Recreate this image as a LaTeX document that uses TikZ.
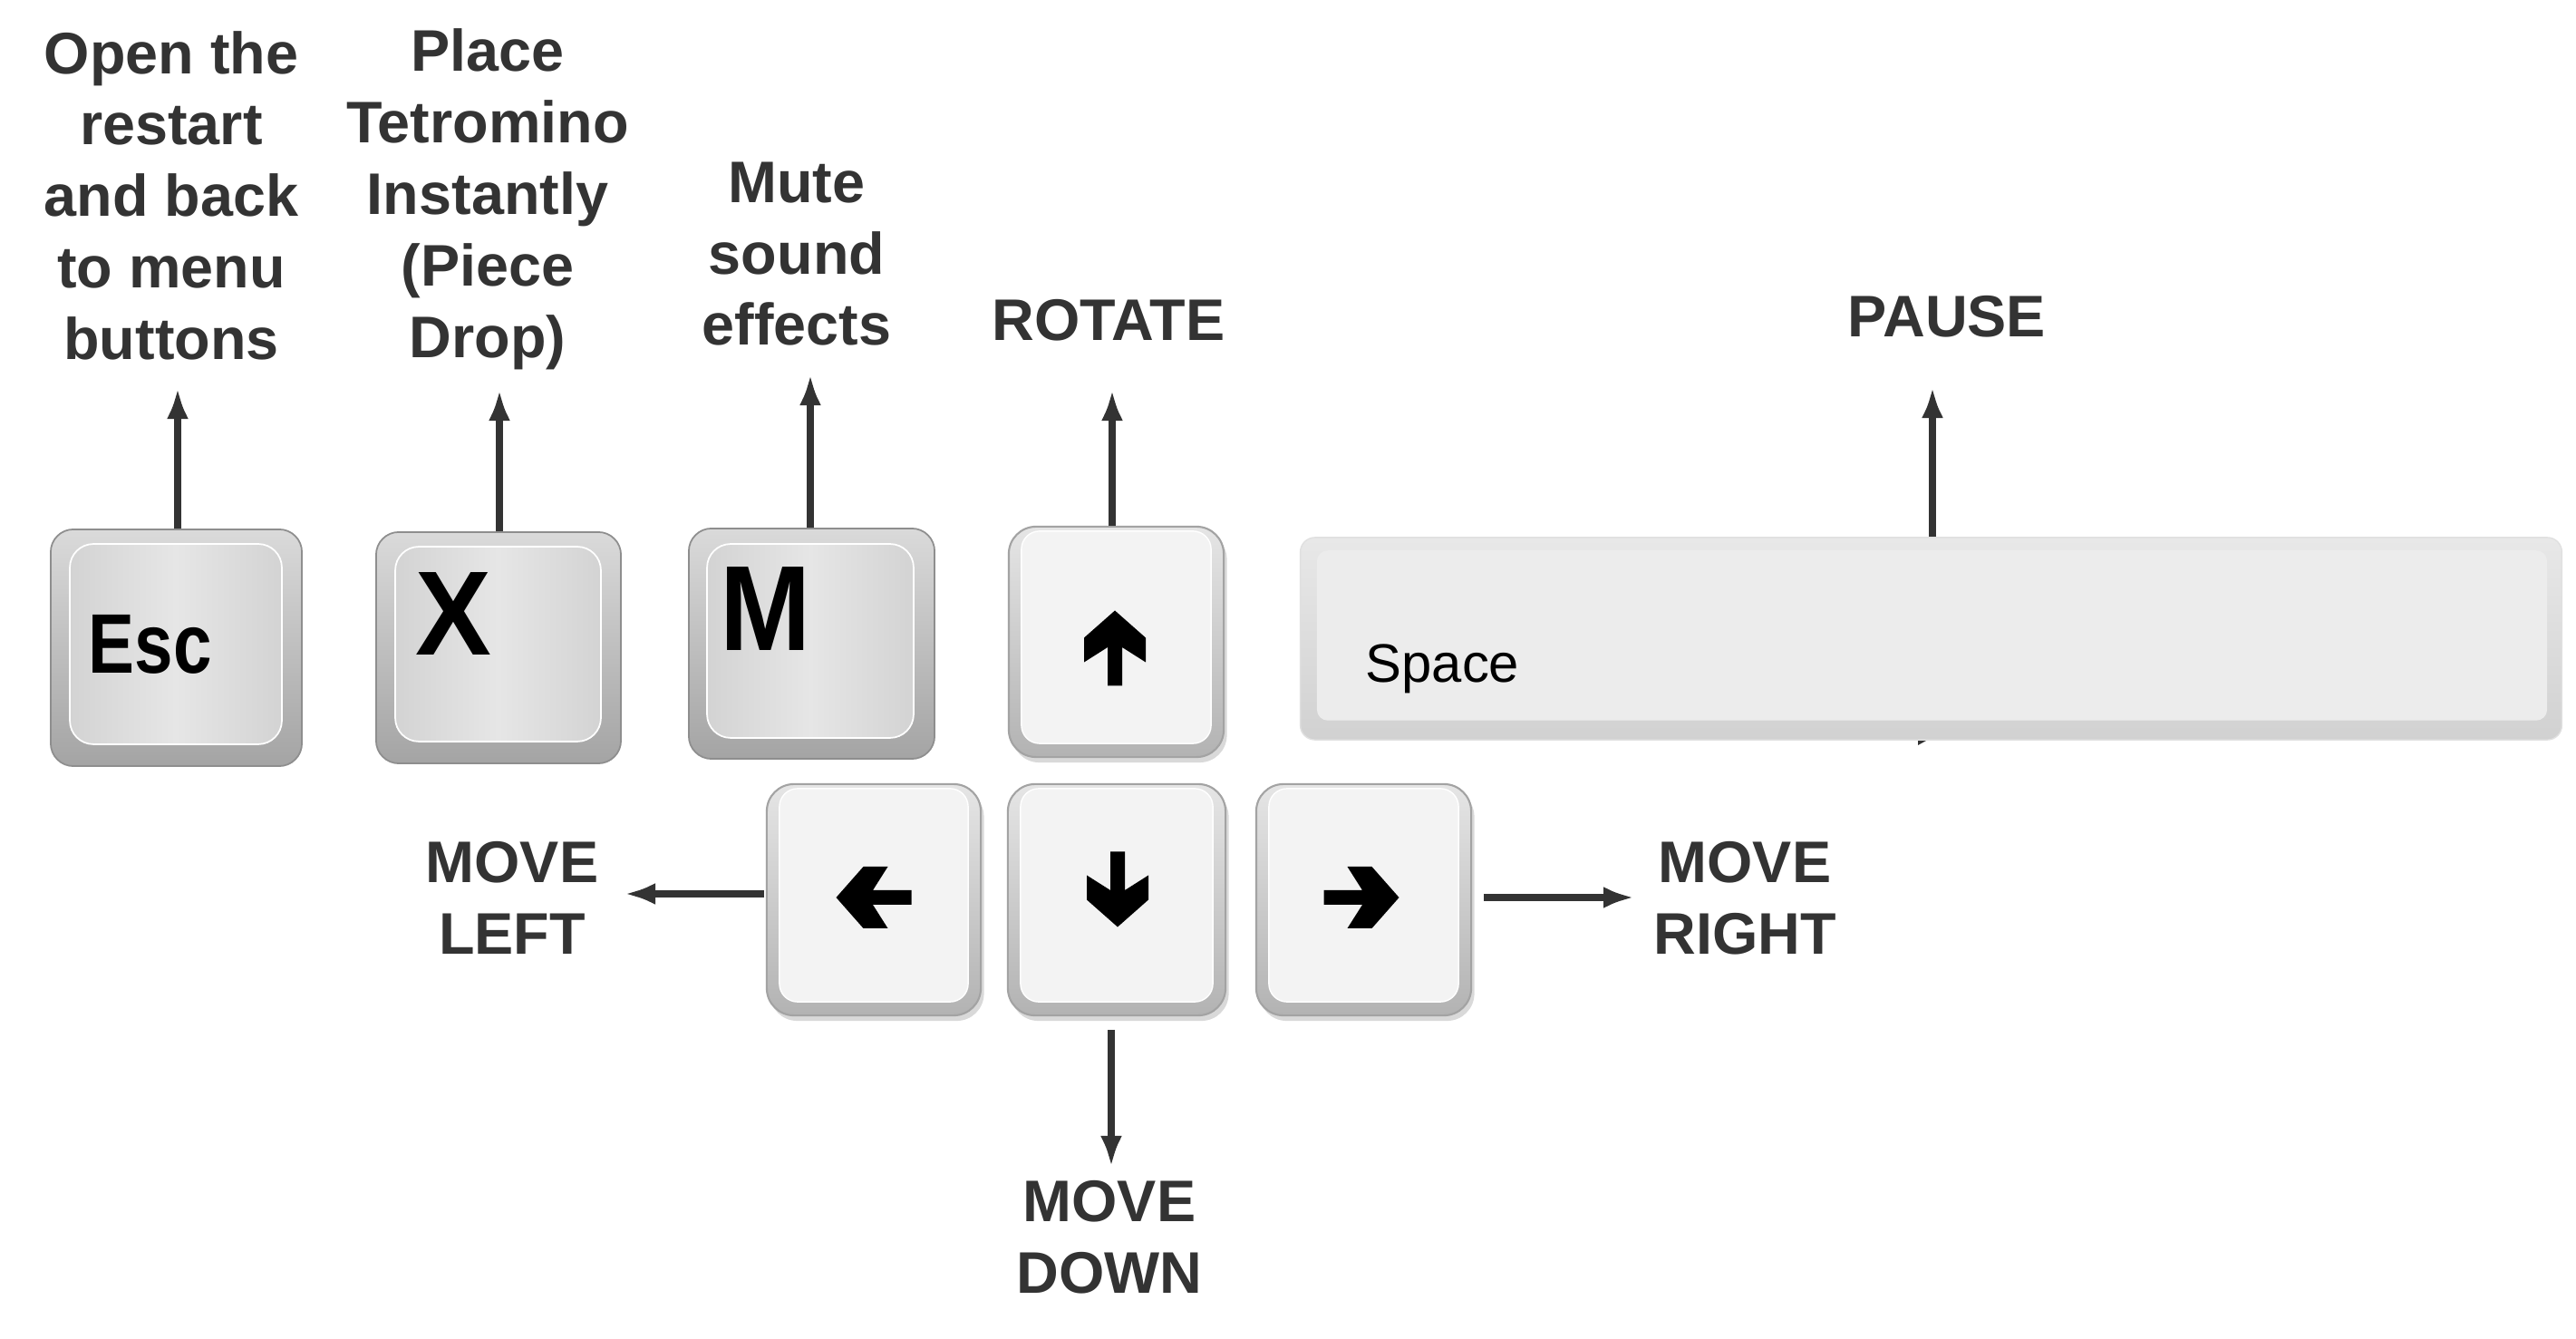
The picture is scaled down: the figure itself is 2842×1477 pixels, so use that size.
\documentclass[tikz,border=0pt]{standalone}
\usepackage{fontspec}
\setmainfont{Liberation Sans}
\usetikzlibrary{arrows.meta,shadows}
\definecolor{txt}{HTML}{333333}
\definecolor{gtop}{HTML}{DADADA}
\definecolor{gbot}{HTML}{A4A4A4}
\definecolor{gline}{HTML}{8E8E8E}
\definecolor{fedge}{HTML}{D3D3D3}
\definecolor{fmid}{HTML}{E6E6E6}
\definecolor{wface}{HTML}{F3F3F3}
\newcommand\lst{\rule[-0.142em]{0pt}{1em}}
\tikzset{
  graykey/.style={rectangle, rounded corners=0.25cm, draw=gline, line width=0.5pt,
    top color=gtop, bottom color=gbot, inner sep=0pt},
  grayface/.style={rounded corners=0.26cm, draw=white, line width=0.5pt,
    left color=fedge, right color=fedge, middle color=fmid},
  whitekey/.style={rectangle, rounded corners=0.3cm, draw=black!36, line width=0.6pt,
    top color=black!10, bottom color=black!30, inner sep=0pt,
    drop shadow={shadow xshift=0.035cm, shadow yshift=-0.06cm, opacity=0.3}},
  whiteface/.style={rounded corners=0.2cm, fill=wface, draw=white, line width=0.4pt},
  spacekey/.style={rectangle, rounded corners=0.16cm, draw=black!12, line width=0.4pt,
    top color=black!9, bottom color=black!18, inner sep=0pt},
  spaceface/.style={rounded corners=0.12cm, fill=black!7.5},
  lbl/.style={font=\fontsize{18.4}{22.4}\selectfont\bfseries, text=txt, align=center, inner sep=0pt},
  conn/.style={draw=txt, line width=2.5pt, -{Latex[length=0.34cm,width=0.24cm]}},
  kglyph/.pic={\fill[black] (41.5,0) -- (11.5,34) -- (-15.5,34) -- (1,8) -- (-41.5,8)
     -- (-41.5,-8) -- (1,-8) -- (-15.5,-34) -- (11.5,-34) -- cycle;}
}
\begin{document}
\begin{tikzpicture}[x=0.01cm,y=-0.01cm]
\useasboundingbox (0,0) rectangle (2842,1477);

% ---------- gray keys ----------
\node[graykey, minimum width=2.77cm, minimum height=2.61cm] (esc) at (194.5,714.5) {};
\path[grayface] ([xshift=0.22cm,yshift=-0.17cm]esc.north west) rectangle ([xshift=-0.23cm,yshift=0.25cm]esc.south east);
\node[anchor=base west, inner sep=0pt, font=\fontsize{26.5}{30}\selectfont\bfseries] (esct) at (97,743) {\scalebox{0.82}[1]{Esc}};

\node[graykey, minimum width=2.70cm, minimum height=2.55cm] (xk) at (550,714.5) {};
\path[grayface] ([xshift=0.22cm,yshift=-0.17cm]xk.north west) rectangle ([xshift=-0.23cm,yshift=0.25cm]xk.south east);
\node[anchor=base west, inner sep=0pt, font=\fontsize{37.6}{40}\selectfont\bfseries] (xt) at (458,723) {\scalebox{0.95}[1]{X}};

\node[graykey, minimum width=2.71cm, minimum height=2.54cm] (mk) at (895.5,710) {};
\path[grayface] ([xshift=0.21cm,yshift=-0.18cm]mk.north west) rectangle ([xshift=-0.24cm,yshift=0.24cm]mk.south east);
\node[anchor=base west, inner sep=0pt, font=\fontsize{38}{40}\selectfont\bfseries] (mt) at (794,718) {\scalebox{0.9}[1]{M}};

% ---------- arrow keys ----------
\node[whitekey, minimum width=2.37cm, minimum height=2.54cm] (up) at (1231.5,708) {};
\path[whiteface] ([xshift=0.15cm,yshift=-0.06cm]up.north west) rectangle ([xshift=-0.15cm,yshift=0.16cm]up.south east);
\pic[rotate=90] (gup) at (1230,715) {kglyph};

\node[whitekey, minimum width=2.36cm, minimum height=2.55cm] (left) at (964,992.5) {};
\path[whiteface] ([xshift=0.15cm,yshift=-0.06cm]left.north west) rectangle ([xshift=-0.15cm,yshift=0.16cm]left.south east);
\pic[rotate=180] (gleft) at (964,990) {kglyph};

\node[whitekey, minimum width=2.40cm, minimum height=2.55cm] (down) at (1232,992.5) {};
\path[whiteface] ([xshift=0.15cm,yshift=-0.06cm]down.north west) rectangle ([xshift=-0.15cm,yshift=0.16cm]down.south east);
\pic[rotate=-90] (gdown) at (1233,981) {kglyph};

\node[whitekey, minimum width=2.37cm, minimum height=2.55cm] (right) at (1504.5,992.5) {};
\path[whiteface] ([xshift=0.15cm,yshift=-0.06cm]right.north west) rectangle ([xshift=-0.15cm,yshift=0.16cm]right.south east);
\pic (gright) at (1502,990) {kglyph};

% ---------- space bar ----------
\fill[txt] (2116,812) -- (2134,812) -- (2116,822) -- cycle;
\node[spacekey, minimum width=13.91cm, minimum height=2.23cm] (space) at (2130.5,704.5) {};
\path[spaceface] ([xshift=0.19cm,yshift=-0.15cm]space.north west) rectangle ([xshift=-0.17cm,yshift=0.22cm]space.south east);
\node[anchor=base west, inner sep=0pt, font=\fontsize{17}{20}\selectfont] (spt) at (1506,753) {Space};

% ---------- labels ----------
\node[lbl] (lesc) at (189,215.5) {Open the\lst\\restart\lst\\and back\lst\\to menu\lst\\buttons\lst};
\node[lbl] (lx) at (538,215.5) {Place\lst\\Tetromino\lst\\Instantly\lst\\(Piece\lst\\Drop)\lst};
\node[lbl] (lm) at (879,279) {Mute\lst\\sound\lst\\effects\lst};
\node[lbl] (lrot) at (1223,352) {ROTATE\lst};
\node[lbl] (lpause) at (2148,348) {PAUSE\lst};
\node[lbl] (lleft) at (565,990) {MOVE\lst\\LEFT\lst};
\node[lbl] (lright) at (1925,990) {MOVE\lst\\RIGHT\lst};
\node[lbl] (ldown) at (1224,1364) {MOVE\lst\\DOWN\lst};

% ---------- connectors ----------
\coordinate (tesc) at (196,428);
\coordinate (tx) at (551,430);
\coordinate (tm) at (894,413);
\coordinate (tup) at (1227,430);
\coordinate (tsp) at (2132,427);
\coordinate (sleft) at (843,986);
\coordinate (tleft) at (689,986);
\coordinate (sright) at (1637,990);
\coordinate (tright) at (1803,990);
\coordinate (sdown) at (1226,1136);
\coordinate (tdown) at (1226,1287);

\draw[conn] (esc.north -| tesc) -- (tesc);
\draw[conn] (xk.north -| tx) -- (tx);
\draw[conn] (mk.north -| tm) -- (tm);
\draw[conn] (up.north -| tup) -- (tup);
\draw[conn] (space.north -| tsp) -- (tsp);
\draw[conn] (sleft) -- (tleft);
\draw[conn] (sright) -- (tright);
\draw[conn] (sdown) -- (tdown);
\end{tikzpicture}
\end{document}
